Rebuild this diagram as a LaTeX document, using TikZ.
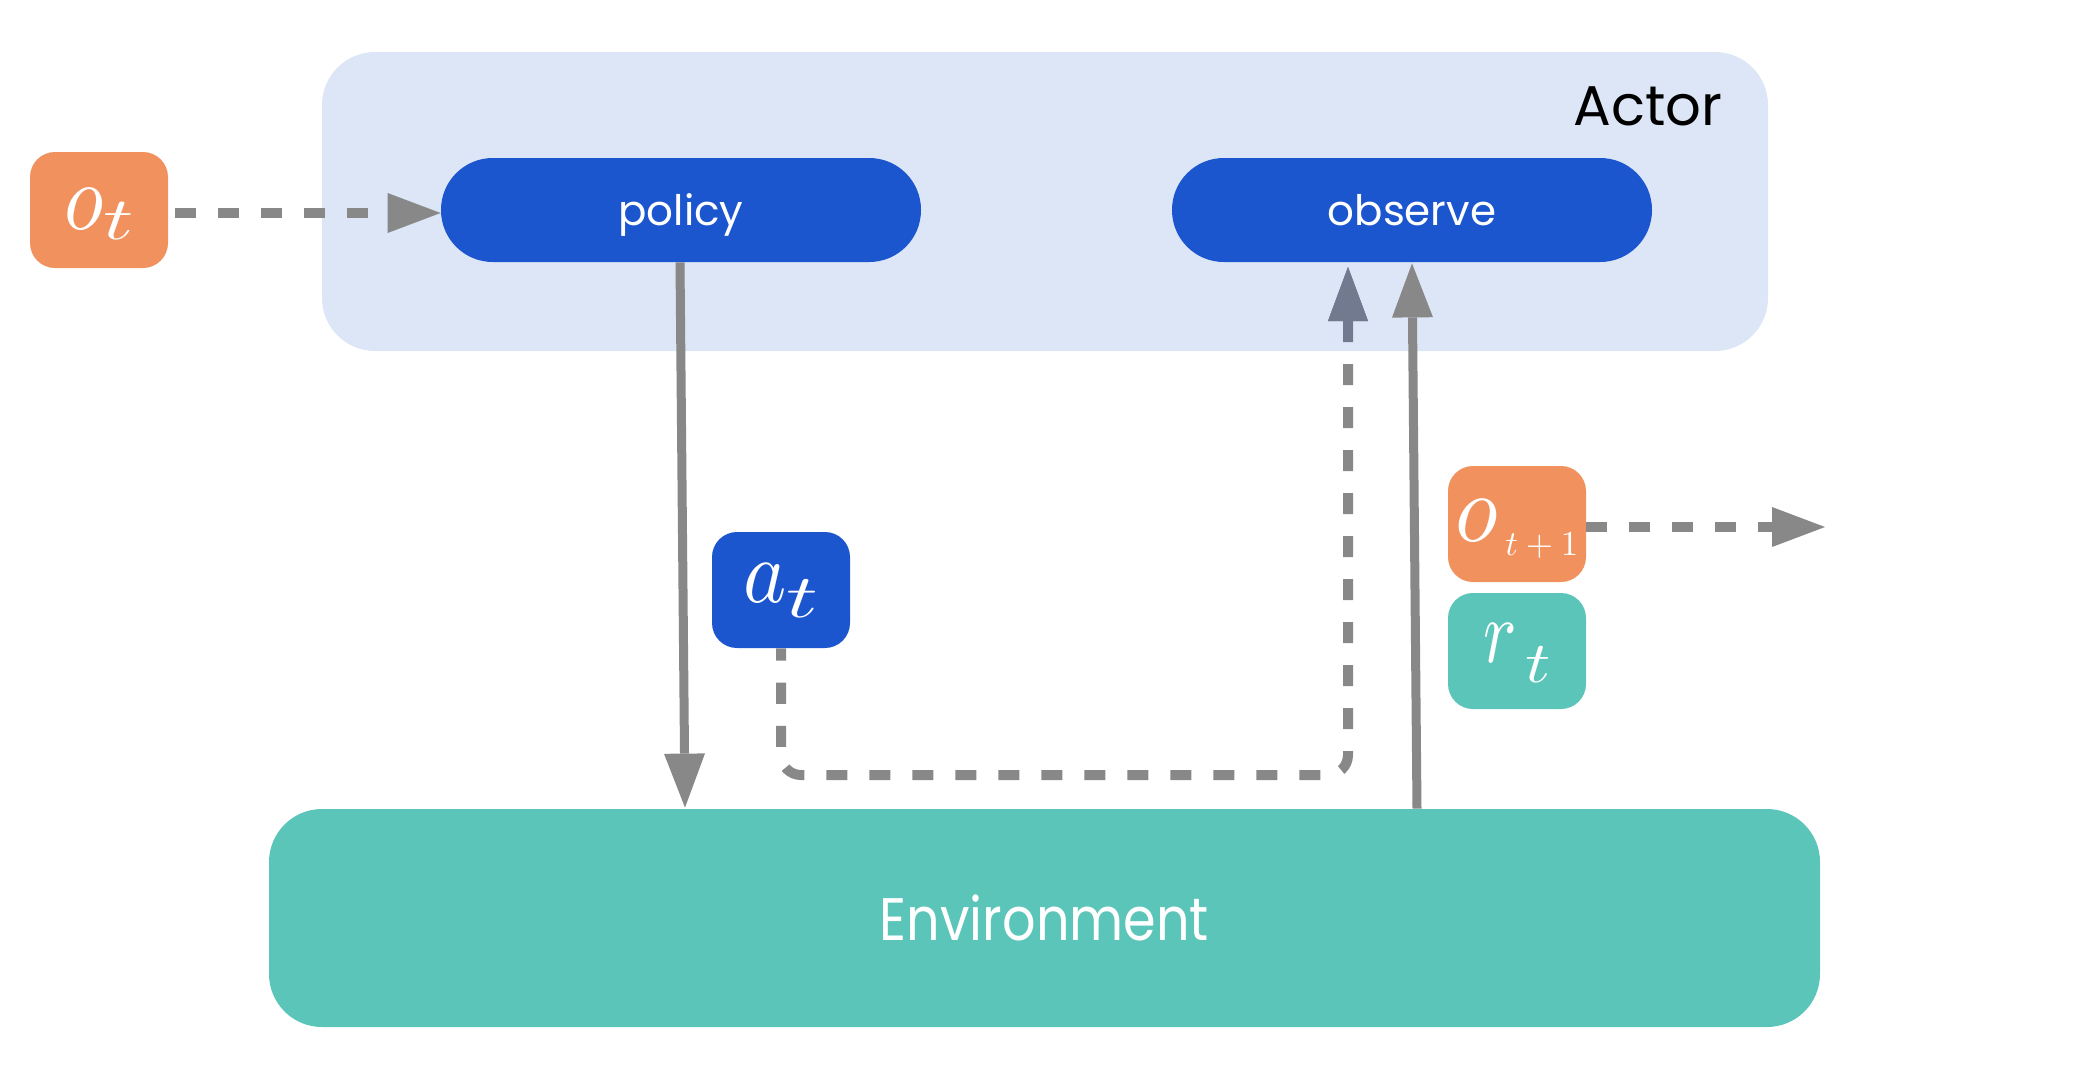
\documentclass[tikz,border=0pt]{standalone}
\usepackage{graphicx}
\usepackage{fontspec}
\setmainfont{Poppins}
\newfontfamily\envfont{Poppins}[FakeStretch=0.875]
\usetikzlibrary{arrows.meta,calc}
\definecolor{actorbg}{HTML}{DCE6F6}
\definecolor{cblue}{HTML}{1C56CE}
\definecolor{corange}{HTML}{F0915E}
\definecolor{cteal}{HTML}{5CC5B9}
\definecolor{cgray}{HTML}{888888}
\definecolor{ctip}{HTML}{717A8E}
\newcommand\glyphsc[3]{\scalebox{#1}[#2]{$#3$}}
\begin{document}
\begin{tikzpicture}[x=0.5pt,y=-0.5pt,
  smallbox/.style={rounded corners=12.5pt, minimum width=69pt, minimum height=58pt, inner sep=0pt, text=white},
  pill/.style={fill=cblue, rounded corners=25.9pt, minimum width=240pt, minimum height=52pt, inner sep=0pt, text=white, font=\fontsize{21}{21}\selectfont, text height=15pt, text depth=0pt},
  dashline/.style={line width=5pt, dash pattern=on 10.5pt off 11pt},
  dasharrow/.style={draw=cgray, dashline, -{Triangle[length=26.5pt,width=20pt,line width=0pt]}},
  solidarrow/.style={draw=cgray, line width=4.5pt, -{Triangle[length=27pt,width=20.5pt,line width=0pt]}}
]
\useasboundingbox (0,0) rectangle (2090,1072);
% Actor container
\node[fill=actorbg, rounded corners=26.5pt, minimum width=723pt, minimum height=149.5pt, inner sep=0pt] (actor) at (1045,201.5) {};
\node[anchor=base east, inner sep=0pt, font=\fontsize{28}{28}\selectfont] (actorlbl) at (1723,125) {Actor};
\node[pill] (policy) at (681,210) {policy};
\node[pill] (observe) at (1412,210) {observe};
% Environment
\node[fill=cteal, rounded corners=26.5pt, minimum width=775.5pt, minimum height=109pt, inner sep=0pt, text=white, font=\envfont\fontsize{30}{30}\selectfont] (env) at (1044.5,918) {Environment};
% small labels
\node[smallbox, fill=corange, text height=20pt, text depth=1pt] (ot) at (99,210)
  {\glyphsc{4.05}{4.75}{o}\raisebox{-5pt}{\glyphsc{4.2}{3.0}{t}}};
\node[smallbox, fill=cblue, text height=14pt, text depth=2pt] (act) at (781,590)
  {\glyphsc{4.1}{4.5}{a}\kern-0.5pt\raisebox{-7.5pt}{\glyphsc{4.4}{3.05}{t}}};
\node[smallbox, fill=corange, text height=19pt, text depth=2pt] (ot1) at (1517,524)
  {\glyphsc{4.4}{4.85}{o}\kern3.5pt\raisebox{-7pt}{\glyphsc{1.75}{1.75}{t+1}}};
\node[smallbox, fill=cteal, text height=13pt, text depth=2pt] (rt) at (1517,651)
  {\glyphsc{3.5}{4.5}{r}\kern4.5pt\raisebox{-10pt}{\glyphsc{3.5}{2.9}{t}}};
% connectors
\coordinate (outend) at (1825,527);
\coordinate (cor) at (1348,775);
\coordinate (obsin) at (1348,267);
\draw[dasharrow, shorten <=3.5pt] ([yshift=-1.5pt]ot.east) -- ([yshift=-1.5pt]policy.west);
\draw[solidarrow] ([xshift=-0.5pt]policy.south) -- ([xshift=-179.75pt,yshift=0.5pt]env.north);
\draw[solidarrow] ([xshift=186.25pt]env.north) -- ([yshift=-0.5pt]observe.south);
\draw[draw=cgray, dashline, rounded corners=10pt, {Triangle[length=27pt,width=20pt,line width=0pt,color=ctip]}-]
  (obsin) -- (cor) -| (act.south);
\begin{scope}
  \clip (322,52) rectangle (1768,351);
  \draw[draw=ctip, dashline, {Triangle[length=27pt,width=20pt,line width=0pt,color=ctip]}-]
    (obsin) -- (cor);
\end{scope}
\draw[dasharrow] ([yshift=-1.5pt]ot1.east) -- (outend);
\end{tikzpicture}
\end{document}
